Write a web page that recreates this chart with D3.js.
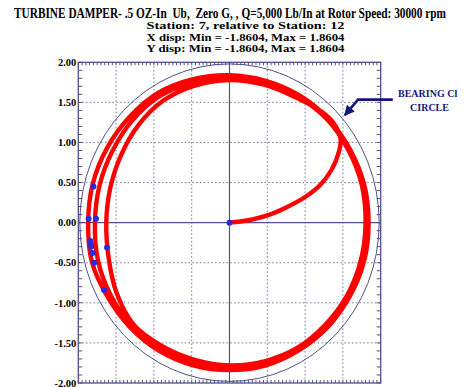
<!DOCTYPE html>
<html>
<head>
<meta charset="utf-8">
<script src="https://cdn.jsdelivr.net/npm/d3@7"></script>
<style>
  html, body { margin: 0; padding: 0; background: #ffffff; }
  svg { display: block; }
  text { font-family: "Liberation Serif", "Times New Roman", serif; font-weight: bold; white-space: pre; }
</style>
</head>
<body>
<svg id="chart" width="470" height="387"></svg>
<script>
// ---- chart data (displacements in mils) ----
const titleLines = [
  "TURBINE DAMPER- .5 OZ-In  Ub,  Zero G, , Q=5,000 Lb/In at Rotor Speed: 30000 rpm",
  "Station: 7, relative to Station: 12",
  "X disp: Min = -1.8604, Max = 1.8604",
  "Y disp: Min = -1.8604, Max = 1.8604"
];
const yTickValues = [2.0, 1.5, 1.0, 0.5, 0.0, -0.5, -1.0, -1.5, -2.0];
const gridValues = [-1.5, -1.0, -0.5, 0.5, 1.0, 1.5];
const bearingClearance = 1.98;

// start-up path from the centre to the first orbit
const transientPath = [
  [0.00, 0.00], [0.25, 0.03], [0.50, 0.09], [0.75, 0.19], [1.00, 0.32],
  [1.20, 0.47], [1.35, 0.66], [1.44, 0.86], [1.47, 1.04], [1.40, 1.21],
  [1.24, 1.37]
];
// successive whirl orbits (counter-clockwise)
const orbit1 = [
  [0.90, 1.55], [0.46, 1.72], [0.00, 1.78], [-0.46, 1.71], [-0.88, 1.52],
  [-1.21, 1.21], [-1.44, 0.83], [-1.58, 0.42], [-1.63, 0.00], [-1.60, -0.43],
  [-1.50, -0.86], [-1.27, -1.27], [-0.89, -1.54], [-0.46, -1.71], [0.00, -1.78],
  [0.46, -1.73], [0.90, -1.56], [1.27, -1.27], [1.56, -0.90], [1.74, -0.46],
  [1.80, 0.00], [1.75, 0.47], [1.57, 0.91], [1.29, 1.29]
];
const orbit2 = [
  [0.91, 1.57], [0.47, 1.75], [0.00, 1.81], [-0.47, 1.75], [-0.92, 1.58],
  [-1.29, 1.27], [-1.55, 0.89], [-1.72, 0.46], [-1.78, 0.00], [-1.74, -0.47],
  [-1.57, -0.91], [-1.29, -1.29], [-0.91, -1.57], [-0.47, -1.76], [0.00, -1.81],
  [0.47, -1.76], [0.91, -1.58], [1.29, -1.29], [1.58, -0.91], [1.76, -0.47],
  [1.82, 0.00], [1.76, 0.47], [1.58, 0.91], [1.30, 1.30]
];
const orbit3 = [
  [0.92, 1.59], [0.48, 1.77], [0.00, 1.84], [-0.48, 1.79], [-0.94, 1.62],
  [-1.32, 1.32], [-1.62, 0.93], [-1.81, 0.48], [-1.87, 0.00], [-1.82, -0.49],
  [-1.61, -0.93], [-1.31, -1.31], [-0.93, -1.60], [-0.48, -1.78], [0.00, -1.84],
  [0.48, -1.78], [0.92, -1.59], [1.30, -1.30], [1.59, -0.92], [1.78, -0.48],
  [1.84, 0.00], [1.78, 0.48], [1.59, 0.92], [1.31, 1.31]
];
// once-per-revolution marks
const phaseMarks = [
  [0.00, 0.00], [-1.80, 0.45], [-1.864, 0.05], [-1.766, 0.05], [-1.84, -0.23],
  [-1.83, -0.28], [-1.83, -0.30], [-1.81, -0.38], [-1.79, -0.50], [-1.62, -0.31],
  [-1.66, -0.84]
];
// annotation pointing at the bearing clearance circle
const calloutLines = ["BEARING Cl", "CIRCLE"];
const calloutArrow = [[2.16, 1.535], [1.70, 1.535], [1.525, 1.34]];

// ---- layout ----
const svg = d3.select("#chart");
const x = d3.scaleLinear().domain([-2, 2]).range([78.3, 380.7]);
const y = d3.scaleLinear().domain([-2, 2]).range([383, 62.3]);
const axisColor = "#50508a";
const gridColor = "#7a7aaa";
const navy = "#14147e";

// titles: each line is fitted to its width in the narrow serif of the plot file
const titleG = svg.append("g").attr("fill", "#000");
titleG.append("text").attr("x", 14).attr("y", 17.5)
  .attr("font-size", 13.6).attr("textLength", 432).attr("lengthAdjust", "spacingAndGlyphs")
  .text(titleLines[0]);
[28.8, 40.6, 52.2].forEach((ty, i) => {
  titleG.append("text").attr("x", 146.5).attr("y", ty)
    .attr("font-size", 10.6).attr("textLength", 198).attr("lengthAdjust", "spacingAndGlyphs")
    .text(titleLines[i + 1]);
});

// grid
const grid = svg.append("g").attr("stroke", gridColor).attr("stroke-width", 1)
  .attr("stroke-dasharray", "1.6,2.2");
gridValues.forEach(v => {
  grid.append("line").attr("x1", x(v)).attr("x2", x(v)).attr("y1", y(2)).attr("y2", y(-2));
  grid.append("line").attr("x1", x(-2)).attr("x2", x(2)).attr("y1", y(v)).attr("y2", y(v));
});
// zero lines
svg.append("line").attr("x1", x(0)).attr("x2", x(0)).attr("y1", y(2)).attr("y2", y(-2))
  .attr("stroke", axisColor).attr("stroke-width", 1.2);
svg.append("line").attr("x1", x(-2)).attr("x2", x(2)).attr("y1", y(0)).attr("y2", y(0))
  .attr("stroke", axisColor).attr("stroke-width", 1.2);

// bearing clearance circle
svg.append("ellipse").attr("cx", x(0)).attr("cy", y(0))
  .attr("rx", x(bearingClearance) - x(0)).attr("ry", y(0) - y(bearingClearance))
  .attr("fill", "none").attr("stroke", "#3c3c7c").attr("stroke-width", 0.9);

// orbit
const line = d3.line().x(d => x(d[0])).y(d => y(d[1])).curve(d3.curveCatmullRom.alpha(0.5));
const fullPath = transientPath.concat(orbit1, orbit2, orbit3);
svg.append("path").datum(fullPath).attr("d", line)
  .attr("fill", "none").attr("stroke", "#ff0000").attr("stroke-width", 4.4)
  .attr("stroke-linejoin", "round").attr("stroke-linecap", "round");

// phase marks
svg.append("g").selectAll("circle").data(phaseMarks).join("circle")
  .attr("cx", d => x(d[0])).attr("cy", d => y(d[1])).attr("r", 3)
  .attr("fill", "#2a2ade");

// frame and minor ticks
const ticks = svg.append("g").attr("stroke", axisColor).attr("stroke-width", 1);
d3.range(-20, 21).forEach(i => {
  const v = i / 10;
  ticks.append("line").attr("x1", x(-2)).attr("x2", x(-2) + 4).attr("y1", y(v)).attr("y2", y(v));
  ticks.append("line").attr("x1", x(2)).attr("x2", x(2) - 4).attr("y1", y(v)).attr("y2", y(v));
});
d3.range(-40, 41).forEach(i => {
  const v = i / 20;
  ticks.append("line").attr("x1", x(v)).attr("x2", x(v)).attr("y1", y(2)).attr("y2", y(2) + 3);
  ticks.append("line").attr("x1", x(v)).attr("x2", x(v)).attr("y1", y(-2)).attr("y2", y(-2) - 3);
});
svg.append("rect").attr("x", x(-2)).attr("y", y(2))
  .attr("width", x(2) - x(-2)).attr("height", y(-2) - y(2))
  .attr("fill", "none").attr("stroke", axisColor).attr("stroke-width", 1.3);

// y tick labels
svg.append("g").selectAll("text").data(yTickValues).join("text")
  .attr("x", x(-2) - 2).attr("y", d => y(d)).attr("dy", "0.35em")
  .attr("text-anchor", "end").attr("font-size", 10.5).attr("fill", "#000")
  .text(d => d.toFixed(2));

// callout
svg.append("defs").append("marker").attr("id", "head")
  .attr("viewBox", "0 0 10 10").attr("refX", 9).attr("refY", 5)
  .attr("markerWidth", 4).attr("markerHeight", 4).attr("orient", "auto")
  .attr("markerUnits", "strokeWidth")
  .append("path").attr("d", "M0,0 L10,5 L0,10 Z").attr("fill", navy);
svg.append("path").datum(calloutArrow)
  .attr("d", d3.line().x(d => x(d[0])).y(d => y(d[1])))
  .attr("fill", "none").attr("stroke", navy).attr("stroke-width", 2.6)
  .attr("marker-end", "url(#head)");
svg.append("text").attr("x", 398).attr("y", 97).attr("font-size", 10)
  .attr("fill", navy).text(calloutLines[0]);
svg.append("text").attr("x", 429.5).attr("y", 111).attr("font-size", 10)
  .attr("text-anchor", "middle").attr("fill", navy).text(calloutLines[1]);
</script>
</body>
</html>
